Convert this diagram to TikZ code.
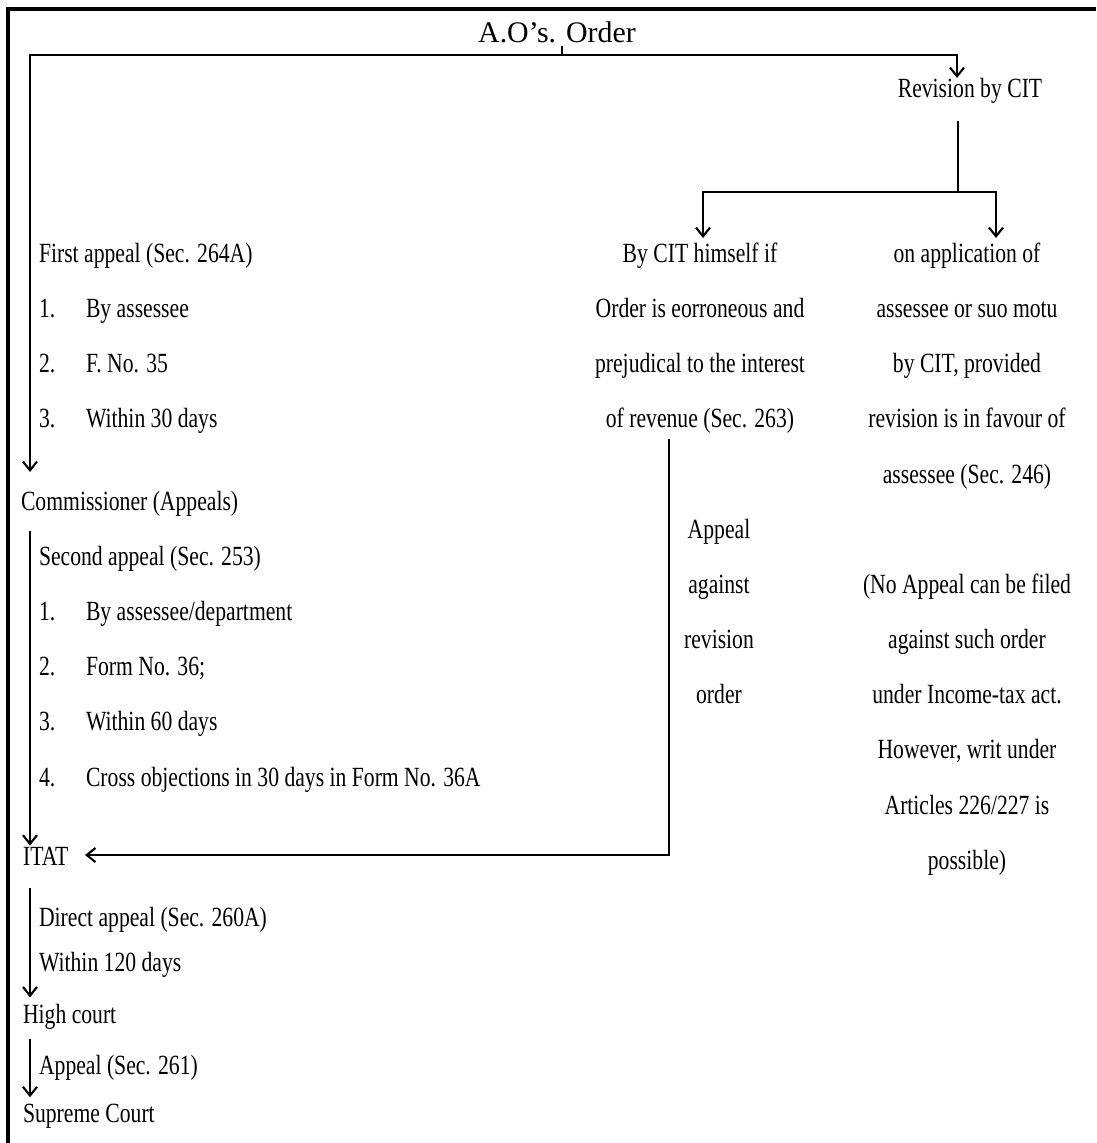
\documentclass[tikz,border=0pt]{standalone}
\usepackage{fontspec}
\setmainfont{Liberation Serif}[FakeStretch=0.78]
\newfontfamily\ttlfont{Liberation Serif}
\usetikzlibrary{arrows.meta}
\tikzset{
  txt/.style={inner sep=0pt,font=\fontsize{15.8}{18}\selectfont},
  lft/.style={txt,anchor=base west},
  ctr/.style={txt,anchor=base},
  arr/.style={-{Straight Barb[length=5pt,width=8pt]}},
}
\begin{document}
\begin{tikzpicture}[x=0.02cm,y=-0.02cm,line width=1.2pt]
\pgfmathsetmacro{\kdy}{55.3}
\pgfmathsetmacro{\kxl}{38}
\pgfmathsetmacro{\kxn}{85}
\pgfmathsetmacro{\kxm}{700}
\pgfmathsetmacro{\kxr}{967}
\useasboundingbox (0,0) rectangle (1096,1143);
\draw[line width=1.8pt] (8,1143) |- (1096,9);
% top
\node[ctr,font=\ttlfont\fontsize{17}{19}\selectfont] (ao) at (557,42) {A.O’s. Order};
\node[ctr] (rev) at (970,97) {Revision by CIT};
\coordinate (bar) at (562,55);
\coordinate (revin) at (957,78);
\coordinate (cain) at (30,472);
\coordinate (fork) at (958,192);
\coordinate (bin1) at (703,238);
\coordinate (bin2) at (996,238);
\coordinate (itin) at (85,855);
\draw (ao.south -| bar) ++(0,3) -- (bar);
\draw[arr] (bar) -| (revin);
\draw[arr] (bar) -| (cain);
\draw (rev.south -| fork) ++(0,17) -- (fork);
\draw[arr] (fork) -| (bin1);
\draw[arr] (fork) -| (bin2);
% first appeal
\node[lft] (fa) at (\kxl,262) {First appeal (Sec. 264A)};
\foreach \ki/\klb in {1/By assessee,2/F. No. 35,3/Within 30 days}{
  \node[lft] (fa\ki n) at (\kxl,262+\ki*\kdy) {\ki.};
  \node[lft] (fa\ki) at (\kxn,262+\ki*\kdy) {\klb};
}
% revision branches
\foreach \ki/\klb in {0/By CIT himself if,1/Order is eorroneous and,2/prejudical to the interest,3/of revenue (Sec. 263)}{
  \node[ctr] (cm\ki) at (\kxm,262+\ki*\kdy) {\klb};
}
\foreach \ki/\klb in {0/on application of,1/assessee or suo motu,2/{by CIT, provided},3/revision is in favour of,4/assessee (Sec. 246)}{
  \node[ctr] (ap\ki) at (\kxr,262+\ki*\kdy) {\klb};
}
\foreach \ki/\klb in {0/Appeal,1/against,2/revision,3/order}{
  \node[ctr] (ar\ki) at (719,538+\ki*\kdy) {\klb};
}
\foreach \ki/\klb in {0/(No Appeal can be filed,1/against such order,2/under Income-tax act.,3/{However, writ under},4/{Articles 226/227 is},5/possible)}{
  \node[ctr] (na\ki) at (\kxr,593+\ki*\kdy) {\klb};
}
% second appeal
\node[lft] (ca) at (20,510) {Commissioner (Appeals)};
\node[lft] (sa) at (\kxl,565) {Second appeal (Sec. 253)};
\foreach \ki/\klb in {1/{By assessee/department},2/Form No. 36;,3/Within 60 days,4/Cross objections in 30 days in Form No. 36A}{
  \node[lft] (sa\ki n) at (\kxl,565+\ki*\kdy) {\ki.};
  \node[lft] (sa\ki) at (\kxn,565+\ki*\kdy) {\klb};
}
\node[lft] (itat) at (22,865) {ITAT};
\draw[arr] (ca.south -| cain) ++(0,14) -- (itat.north -| cain);
\draw[arr] (cm3.south -| 669,0) ++(0,4) |- (itin);
% high court
\node[lft] (da) at (\kxl,926) {Direct appeal (Sec. 260A)};
\node[lft] (wd) at (\kxl,971) {Within 120 days};
\node[lft] (hc) at (22,1023) {High court};
\node[lft] (sp) at (\kxl,1074) {Appeal (Sec. 261)};
\node[lft] (sc) at (22,1122) {Supreme Court};
\draw[arr,shorten >=3pt] (itat.south -| cain) ++(0,22) -- (hc.north -| cain);
\draw[arr,shorten >=3pt] (hc.south -| cain) ++(0,9) -- (sc.north -| cain);
\end{tikzpicture}
\end{document}
